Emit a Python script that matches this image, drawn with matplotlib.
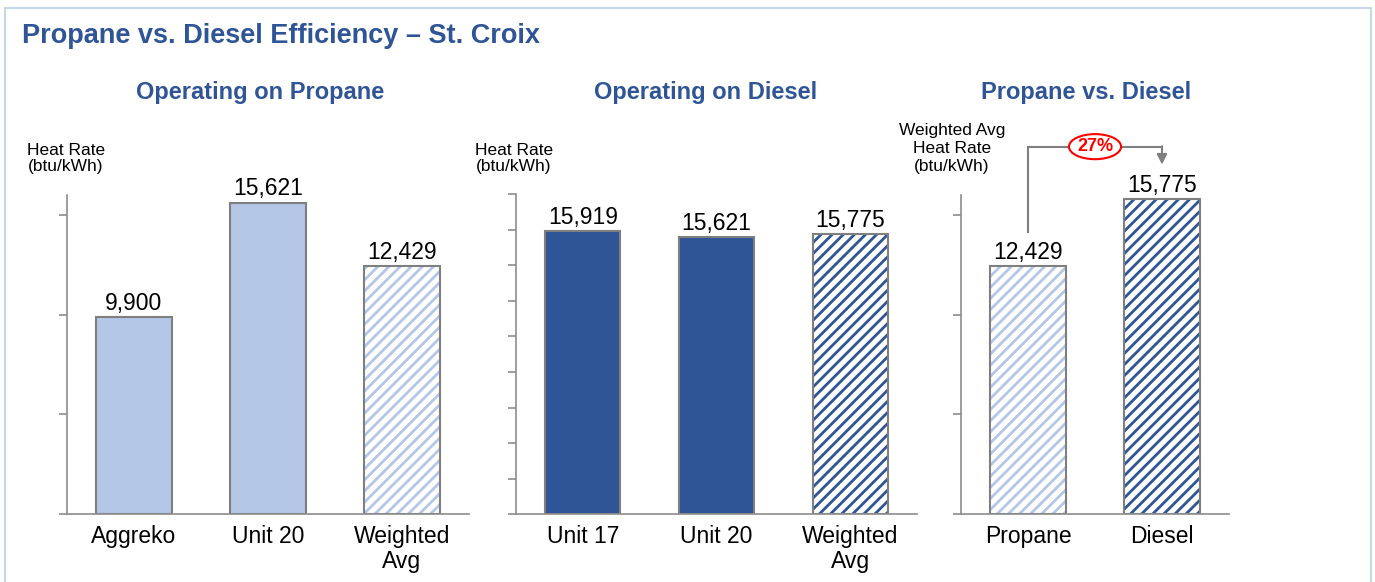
import matplotlib.pyplot as plt
from matplotlib.patches import Rectangle
import numpy as np

plt.rcParams['font.family'] = ['Liberation Sans', 'DejaVu Sans']
plt.rcParams['hatch.linewidth'] = 2.0

# heat rates, btu/kWh
propane_units = ['Aggreko', 'Unit 20', 'Weighted\nAvg']
propane_rates = [9900, 15621, 12429]
diesel_units = ['Unit 17', 'Unit 20', 'Weighted\nAvg']
diesel_rates = [15919, 15621, 15775]
compare_fuels = ['Propane', 'Diesel']
compare_rates = [12429, 15775]
pct_increase = 27

light_blue = '#B4C7E7'
dark_blue = '#2F5597'
bar_edge = '#7F7F7F'
axis_grey = '#8C8C8C'
title_blue = '#2F5597'


def draw_panel(ax, labels, values, colors, hatched, ymax, step):
    x = np.arange(len(values))
    w = 0.56
    for xi, v, c, h in zip(x, values, colors, hatched):
        if h:
            ax.bar(xi, v, w, color='white', edgecolor=c, hatch='///', linewidth=0)
            ax.bar(xi, v, w, fill=False, edgecolor=bar_edge, linewidth=1.5)
        else:
            ax.bar(xi, v, w, color=c, edgecolor=bar_edge, linewidth=1.5)
        ax.annotate(f'{v:,}', (xi, v), xytext=(0, 1.5), textcoords='offset points',
                    ha='center', va='bottom', fontsize=16.5)
    ax.set_xlim(-0.5, len(values) - 0.5)
    ax.set_ylim(0, ymax)
    ax.set_yticks(np.arange(0, ymax + 1, step))
    ax.set_yticklabels([])
    ax.set_xticks(x)
    ax.set_xticklabels(labels, fontsize=16.5, linespacing=1.1)
    for s in ['top', 'right']:
        ax.spines[s].set_visible(False)
    for s in ['left', 'bottom']:
        ax.spines[s].set_color(axis_grey)
        ax.spines[s].set_linewidth(1.2)
    ax.tick_params(axis='y', length=6, color=axis_grey, width=1.2, direction='out')
    ax.tick_params(axis='x', length=0, pad=8)


fig = plt.figure(figsize=(13.75, 5.82), dpi=100)
W, H = 1375, 582


def add_axes(left, right, top, bottom=514):
    return fig.add_axes([left / W, 1 - bottom / H, (right - left) / W, (bottom - top) / H])


ax1 = add_axes(67, 469, 195)
ax2 = add_axes(516, 917, 194.5)
ax3 = add_axes(961, 1229, 195)

draw_panel(ax1, propane_units, propane_rates, [light_blue] * 3, [False, False, True], 16000, 5000)
draw_panel(ax2, diesel_units, diesel_rates, [dark_blue] * 3, [False, False, True], 18000, 2000)
draw_panel(ax3, compare_fuels, compare_rates, [light_blue, dark_blue], [True, True], 16000, 5000)

# bracket from propane to diesel with the percentage increase
y0 = compare_rates[0] + 1700
ytop = max(compare_rates) + 2650
yend = compare_rates[1] + 1750
ax3.plot([0, 0, 1, 1], [y0, ytop, ytop, ytop], color=bar_edge, lw=1.5,
         clip_on=False, solid_joinstyle='miter')
ax3.annotate('', xy=(1, yend), xytext=(1, ytop + 20), annotation_clip=False,
             arrowprops=dict(arrowstyle='-|>,head_length=0.6,head_width=0.3',
                             color=bar_edge, lw=1.5, shrinkA=0, shrinkB=0))
ax3.text(0.5, ytop, f'{pct_increase}%', ha='center', va='center', fontsize=13,
         fontweight='bold', color='#FF0000', clip_on=False,
         bbox=dict(boxstyle='ellipse,pad=0.02', fc='white', ec='#FF0000', lw=1.5))

# axis captions
cap = dict(ha='center', va='top', fontsize=12.5)
fig.text(66 / W, 1 - 143 / H, 'Heat Rate\n(btu/kWh)', linespacing=1.1, **cap)
fig.text(514 / W, 1 - 143 / H, 'Heat Rate\n(btu/kWh)', linespacing=1.1, **cap)
fig.text(952 / W, 1 - 123 / H, 'Weighted Avg\nHeat Rate\n(btu/kWh)', linespacing=1.25, **cap)

# titles
fig.text(22 / W, 1 - 36 / H, 'Propane vs. Diesel Efficiency \u2013 St. Croix', ha='left',
         va='center', fontsize=19.5, fontweight='bold', color=title_blue)
sub = dict(ha='center', va='center', fontsize=17, fontweight='bold', color=title_blue)
fig.text(260 / W, 1 - 93 / H, 'Operating on Propane', **sub)
fig.text(706 / W, 1 - 93 / H, 'Operating on Diesel', **sub)
fig.text(1086 / W, 1 - 93 / H, 'Propane vs. Diesel', **sub)

# frame around the slide area
fig.patches.append(Rectangle((5 / W, -0.05), 1366 / W, 1.05 - 8 / H, transform=fig.transFigure,
                             fill=False, edgecolor='#C6D6EC', linewidth=1.5))

fig.savefig('out.png', dpi=100)
